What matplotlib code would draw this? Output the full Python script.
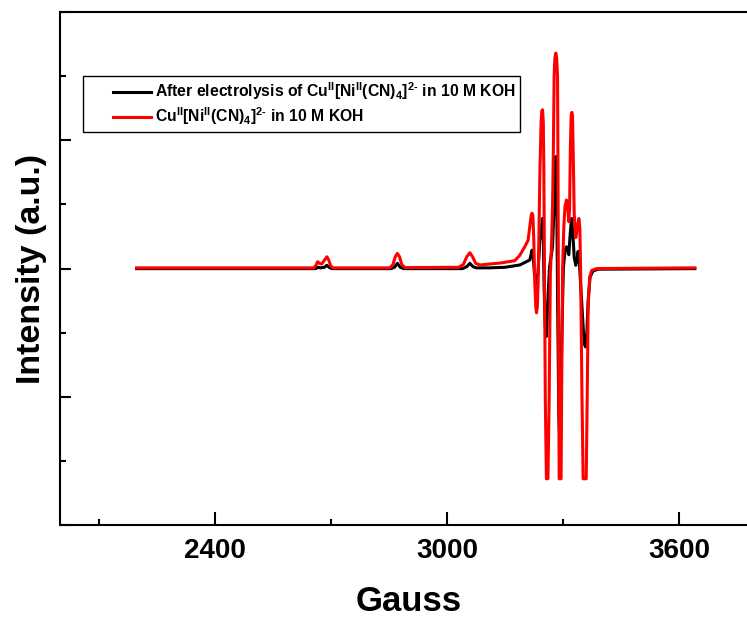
import matplotlib
matplotlib.use('Agg')
import matplotlib.pyplot as plt
from matplotlib.ticker import MultipleLocator, NullFormatter
from matplotlib.lines import Line2D
from matplotlib.legend_handler import HandlerLine2D

plt.rcParams['font.family'] = ['Liberation Sans', 'DejaVu Sans']
plt.rcParams['font.weight'] = 'bold'
plt.rcParams['mathtext.fontset'] = 'custom'
plt.rcParams['mathtext.rm'] = 'Liberation Sans:bold'
plt.rcParams['mathtext.it'] = 'Liberation Sans:bold'
plt.rcParams['mathtext.bf'] = 'Liberation Sans:bold'

# EPR spectra, values (field in Gauss, intensity in a.u.)
field_after = [2197, 2660, 2666, 2672, 2683, 2689, 2695, 2702, 2855, 2864, 2871.5, 2879, 2888,
               3040, 3051, 3059, 3067, 3076, 3110, 3150, 3188, 3214, 3220, 3223, 3226, 3231.4,
               3235, 3240, 3243, 3247, 3249, 3251, 3254, 3257, 3260, 3265, 3272.8, 3276, 3279,
               3281.4, 3283.5, 3286, 3289, 3291.8, 3294, 3297, 3301, 3305, 3309, 3315, 3318.5,
               3322, 3325.5, 3329, 3333, 3337, 3339, 3342, 3348, 3353, 3356, 3358.3, 3361, 3365,
               3370, 3377, 3390, 3641]
int_after = [-0.002, -0.002, 0.019, 0.010, 0.019, 0.050, 0.019, -0.002, -0.002, 0.019, 0.081,
             0.019, -0.002, -0.002, 0.029, 0.081, 0.029, 0.010, 0.010, 0.019, 0.055, 0.132,
             0.286, 0.174, -0.083, -0.228, -0.083, 0.430, 0.533, 0.780, 0.533, -0.289, -0.905,
             -1.059, -0.597, 0.019, 0.338, 0.841, 1.458, 1.745, 1.252, -0.494, -2.241, -2.724,
             -2.241, -1.008, 0.019, 0.276, 0.338, 0.215, 0.533, 0.780, 0.533, 0.174, 0.050,
             0.174, 0.266, 0.122, -0.494, -1.008, -1.193, -1.223, -1.111, -0.494, -0.135, -0.042,
             -0.011, -0.002]

field_fresh = [2197, 2655, 2661, 2665, 2670, 2676, 2683, 2689, 2694, 2699, 2705, 2852, 2860, 2866,
               2871.5, 2877, 2883, 2891, 3030, 3042, 3051, 3059, 3066, 3074, 3085, 3140, 3175,
               3188, 3200, 3209.7, 3214.1, 3218, 3220, 3222, 3224.4, 3227, 3229.5, 3231.4,
               3233.5, 3235.6, 3238, 3240, 3243.3, 3245, 3247, 3249, 3250.4, 3252.5, 3254.2,
               3257, 3261, 3264.1, 3267.2, 3270, 3272.8, 3275, 3277, 3279, 3281.4, 3283.5,
               3285.8, 3287, 3288.5, 3290, 3295, 3296.9, 3299, 3302, 3305, 3309, 3312, 3315,
               3317, 3319, 3321, 3322.8, 3324.5, 3326.2, 3329, 3333, 3337, 3341, 3343.5, 3345.4,
               3348.7, 3352, 3360, 3362.5, 3365, 3369, 3374, 3387, 3641]
int_fresh = [0.010, 0.010, 0.050, 0.106, 0.081, 0.071, 0.132, 0.183, 0.132, 0.040, 0.010,
             0.010, 0.061, 0.183, 0.235, 0.183, 0.061, 0.014, 0.019, 0.061, 0.183, 0.246, 0.183,
             0.081, 0.055, 0.087, 0.122, 0.204, 0.328, 0.440, 0.657, 0.841, 0.862, 0.821, 0.440,
             -0.228, -0.597, -0.690, -0.597, -0.228, 0.636, 1.458, 2.280, 2.455, 2.476, 2.280,
             1.561, -0.494, -2.056, -3.279, -3.279, -2.056, -0.073, 0.328, 0.944, 1.848, 2.999,
             3.287, 3.359, 3.287, 2.999, 1.561, -1.008, -3.279, -3.279, -1.522, 0.019, 0.636,
             0.965, 1.068, 0.965, 0.729, 0.944, 1.869, 2.383, 2.434, 2.383, 1.869, 0.841, 0.482,
             0.636, 0.780, 0.636, 0.019, -1.830, -3.279, -3.279, -2.036, -0.597, -0.135, -0.032,
             -0.001, 0.010]

label_after = r'After electrolysis of Cu$^{\rm II}$[Ni$^{\rm II}$(CN)$_{\rm 4}$]$^{\rm 2\text{-}}$ in 10 M KOH'
label_fresh = r'Cu$^{\rm II}$[Ni$^{\rm II}$(CN)$_{\rm 4}$]$^{\rm 2\text{-}}$ in 10 M KOH'

fig = plt.figure(figsize=(7.47, 6.21), dpi=100)
ax = fig.add_axes([60.5 / 747, (621 - 525) / 621, (756.3 - 60.5) / 747, (525 - 12) / 621])

ax.plot(field_after, int_after, color='black', lw=2.2, label=label_after)
ax.plot(field_fresh, int_fresh, color='red', lw=2.2, label=label_fresh)

ax.set_xlim(2000, 3800)
ax.set_ylim(-4, 4)

ax.xaxis.set_major_locator(MultipleLocator(600))
ax.xaxis.set_minor_locator(MultipleLocator(300))
ax.yaxis.set_major_locator(MultipleLocator(2))
ax.yaxis.set_minor_locator(MultipleLocator(1))
ax.yaxis.set_major_formatter(NullFormatter())

for s in ax.spines.values():
    s.set_linewidth(1.5)
ax.tick_params(which='both', direction='in', width=1.5, top=False, right=False)
ax.tick_params(axis='x', which='major', length=9.5, labelsize=20, pad=9)
ax.tick_params(axis='x', which='minor', length=4.5)
ax.tick_params(axis='y', which='major', length=8)
ax.tick_params(axis='y', which='minor', length=4)

ax.set_xlabel('Gauss', fontsize=25, fontweight='bold', labelpad=15.5)
ax.set_ylabel('Intensity (a.u.)', fontsize=24.5, fontweight='bold', labelpad=6)

fs = 11.3
leg = ax.legend(loc='upper left', bbox_to_anchor=(83.3 / 747, 1 - 75.7 / 621),
                bbox_transform=fig.transFigure, borderaxespad=0,
                prop={'family': 'Liberation Sans', 'weight': 'bold', 'size': fs},
                handlelength=4.0, handletextpad=0.28, labelspacing=0.21, borderpad=0.3,
                fancybox=False, framealpha=1,
                handler_map={Line2D: HandlerLine2D(xpad=1.6)})
leg.get_frame().set_edgecolor('black')
leg.get_frame().set_linewidth(1.0)

fig.savefig('out.png', dpi=100)
